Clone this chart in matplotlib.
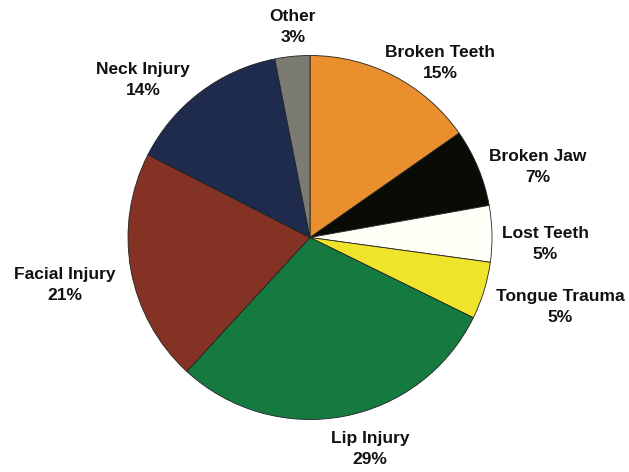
import matplotlib
matplotlib.use("Agg")
import matplotlib.pyplot as plt

categories = ["Broken Teeth", "Broken Jaw", "Lost Teeth", "Tongue Trauma",
              "Lip Injury", "Facial Injury", "Neck Injury", "Other"]
values = [15.3, 6.9, 5.0, 5.1, 29.6, 20.7, 14.4, 3.1]
pct_labels = ["15%", "7%", "5%", "5%", "29%", "21%", "14%", "3%"]
colors = ["#EA8F2D", "#0B0B06", "#FFFFF7", "#EFE32B",
          "#157A40", "#833224", "#1E2B4C", "#7B7B73"]

# label centre positions in pixels (layout only)
label_px = [(440, 63), (538, 167), (545, 244), (560, 307),
            (370, 449), (65, 285), (143, 80), (293, 27)]

W, H = 629, 472
cx, cy, R = 310, 237.5, 182.0

fig = plt.figure(figsize=(W / 100, H / 100), dpi=100)
ax = fig.add_axes([0, 0, 1, 1])
ax.pie(values, colors=colors, startangle=90, counterclock=False, radius=1.0,
       wedgeprops=dict(edgecolor="#222222", linewidth=0.6))
ax.set_aspect("auto")
ax.set_xlim(-cx / R, (W - cx) / R)
ax.set_ylim((cy - H) / R, cy / R)
ax.axis("off")

for name, pct, (px, py) in zip(categories, pct_labels, label_px):
    ax.text((px - cx) / R, (cy - py) / R, f"{name}\n{pct}", ha="center", va="center",
            fontsize=12.5, fontweight="bold", family="Liberation Sans",
            color="#111111", linespacing=1.45)

fig.savefig("out.png", dpi=100)
